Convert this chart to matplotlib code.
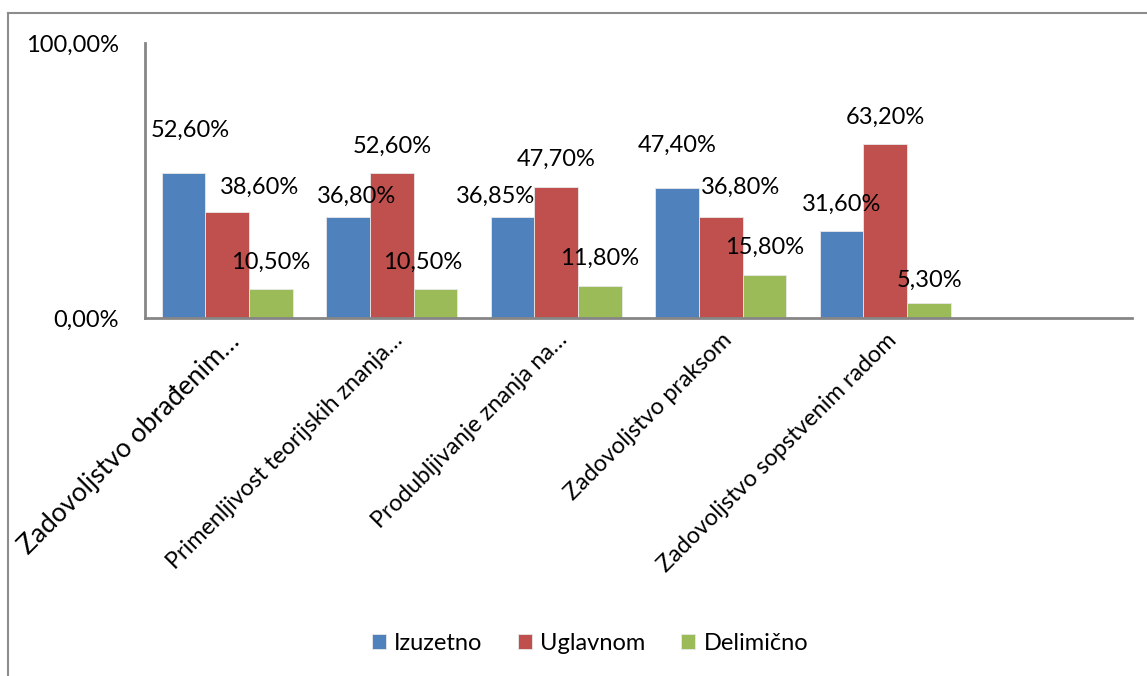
import numpy as np
import matplotlib.pyplot as plt
from matplotlib.lines import Line2D

plt.rcParams['font.family'] = ['Lato', 'DejaVu Sans']

categories = [
    'Zadovoljstvo obrađenim…',
    'Primenljivost teorijskih znanja…',
    'Produbljivanje znanja na…',
    'Zadovoljstvo praksom',
    'Zadovoljstvo sopstvenim radom',
]
series_names = ['Izuzetno', 'Uglavnom', 'Delimično']
izuzetno = [52.60, 36.80, 36.85, 47.40, 31.60]
uglavnom = [38.60, 52.60, 47.70, 36.80, 63.20]
delimicno = [10.50, 10.50, 11.80, 15.80, 5.30]
y_tick_labels = ['0,00%', '100,00%']

colors = ['#4F81BD', '#C0504D', '#9BBB59']

# label nudges in pixels (dx, dy) where labels would collide
nudges = {
    (0, 0): (7, 43), (0, 1): (32, 25),
    (1, 0): (9, 20), (1, 2): (-13, 27),
    (2, 0): (-17, 20),
    (3, 0): (0, 42), (3, 1): (20, 29),
    (4, 2): (0, 23),
}

W, H = 1147, 676
fig = plt.figure(figsize=(W / 100, H / 100), dpi=100)
ax = fig.add_axes([145 / W, 1 - 318 / H, (1132 - 145) / W, (318 - 43) / H])

x = np.arange(len(categories))
width = 0.266
for s, vals in enumerate([izuzetno, uglavnom, delimicno]):
    pos = x + (s - 1) * width
    ax.bar(pos, vals, width, color=colors[s], edgecolor='#e8e8e8',
           linewidth=0.6, label=series_names[s])
    for c, v in enumerate(vals):
        dx, dy = nudges.get((c, s), (0, 27))
        ax.annotate(f'{v:.2f}%'.replace('.', ','), (pos[c], v),
                    xytext=(dx, dy), textcoords='offset pixels',
                    ha='center', va='center', fontsize=17)

ax.set_xlim(-0.5, 5.5)
ax.set_ylim(0, 100)
ax.set_yticks([0, 100])
ax.set_yticklabels(y_tick_labels, fontsize=17)
ax.set_xticks(x)
ticklabels = ax.set_xticklabels(categories, rotation=45, ha='right',
                                rotation_mode='anchor', fontsize=16.8)
ticklabels[0].set_fontsize(19)
ax.tick_params(axis='both', length=0)
ax.tick_params(axis='y', pad=19)
ax.tick_params(axis='x', pad=8)

for side in ['top', 'right']:
    ax.spines[side].set_visible(False)
for side in ['left', 'bottom']:
    ax.spines[side].set_color('#868686')
    ax.spines[side].set_linewidth(2)

ax.legend(loc='center', bbox_to_anchor=(590 / W, 1 - 643 / H),
          bbox_transform=fig.transFigure, ncol=3, frameon=False,
          fontsize=17, handlelength=0.6, handleheight=0.6,
          handletextpad=0.35, columnspacing=1.5)

# chart area border
fig.add_artist(Line2D([8 / W, 8 / W], [0, 1 - 13 / H], transform=fig.transFigure,
                      color='#8c8c8c', linewidth=1.5))
fig.add_artist(Line2D([8 / W, 1], [1 - 13 / H, 1 - 13 / H], transform=fig.transFigure,
                      color='#8c8c8c', linewidth=1.5))

fig.savefig('out.png', dpi=100)
